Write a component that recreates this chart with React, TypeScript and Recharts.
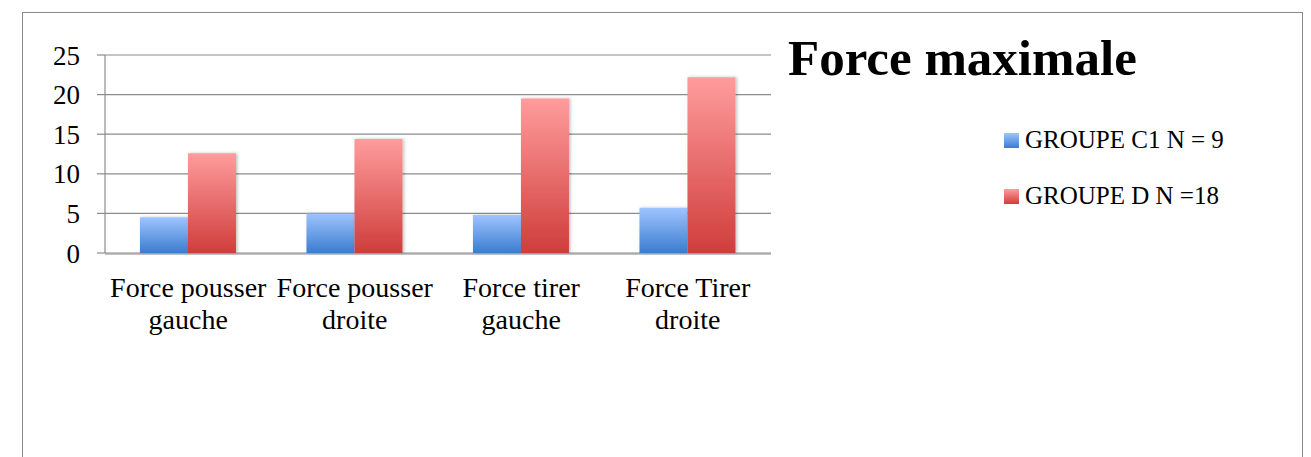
import { BarChart, Bar, XAxis, YAxis, CartesianGrid, Legend } from 'recharts';

const categories = ['Force pousser\ngauche', 'Force pousser\ndroite', 'Force tirer\ngauche', 'Force Tirer\ndroite'];
const groupeC1 = [4.5, 5.0, 4.8, 5.7];
const groupeD = [12.6, 14.4, 19.5, 22.2];
const yTicks = [0, 5, 10, 15, 20, 25];

const series = [
    { key: 'c1', name: 'GROUPE C1 N = 9', top: '#9ec4ff', bottom: '#3b7ccf' },
    { key: 'd', name: 'GROUPE D N =18', top: '#ff9c9c', bottom: '#cf3d3b' },
];

const data = categories.map((name, i) => ({ name, idx: i + 0.5, c1: groupeC1[i], d: groupeD[i] }));

const FONT = '"Liberation Serif", "Times New Roman", serif';
const GRID = '#8c8c8c';

const CategoryTick = (props: any) => {
    const { x, y, payload } = props;
    const lines = String(payload.value).split('\n');
    return (
        <text x={x} y={y} textAnchor="middle" fontFamily={FONT} fontSize={28} fill="#000">
            {lines.map((l, i) => (
                <tspan key={i} x={x} dy={i === 0 ? 36 : 32}>{l}</tspan>
            ))}
        </text>
    );
};

const renderLegend = () => (
    <div style={{ fontFamily: FONT, fontSize: 25, color: '#000' }}>
        {series.map((s, i) => (
            <div key={s.key} style={{ display: 'flex', alignItems: 'center', height: 30, marginBottom: i === 0 ? 26 : 0 }}>
                <span style={{
                    display: 'inline-block', width: 15, height: 15, marginRight: 6,
                    background: `linear-gradient(${s.top}, ${s.bottom})`,
                }} />
                <span>{s.name}</span>
            </div>
        ))}
    </div>
);

export default function App() {
    return (
        <div style={{
            position: 'absolute', left: 22, top: 12, width: 1279, height: 460,
            border: '1px solid #8a8a8a', background: '#fff', fontFamily: FONT,
        }}>
            <div style={{
                position: 'absolute', left: 765, top: 16, fontSize: 51, fontWeight: 'bold',
                lineHeight: '58px', color: '#000', whiteSpace: 'nowrap',
            }}>
                Force maximale
            </div>
            <BarChart
                width={1279}
                height={444}
                data={data}
                margin={{ top: 42, right: 531, left: 0, bottom: 144 }}
                barCategoryGap="21%"
                barGap={0}
            >
                <defs>
                    {series.map((s) => (
                        <linearGradient key={s.key} id={`grad-${s.key}`} x1="0" y1="0" x2="0" y2="1">
                            <stop offset="0%" stopColor={s.top} />
                            <stop offset="100%" stopColor={s.bottom} />
                        </linearGradient>
                    ))}
                    <filter id="barShadow" x="-20%" y="-10%" width="140%" height="120%">
                        <feDropShadow dx="1.5" dy="0" stdDeviation="1.5" floodColor="#000" floodOpacity="0.25" />
                    </filter>
                </defs>
                <CartesianGrid vertical={false} stroke={GRID} strokeWidth={1.2} />
                <XAxis
                    dataKey="name"
                    axisLine={false}
                    tickLine={false}
                    tick={<CategoryTick />}
                    height={1}
                    interval={0}
                />
                <XAxis
                    xAxisId="bounds"
                    type="number"
                    dataKey="idx"
                    domain={[0, 4]}
                    ticks={[0, 1, 2, 3, 4]}
                    tick={false}
                    axisLine={{ stroke: GRID, strokeWidth: 1.2 }}
                    tickLine={{ stroke: GRID, strokeWidth: 1.2 }}
                    tickSize={9}
                    height={59}
                />
                <YAxis
                    domain={[0, 25]}
                    ticks={yTicks}
                    width={82}
                    tickSize={8}
                    tickMargin={17}
                    axisLine={{ stroke: GRID, strokeWidth: 1.2 }}
                    tickLine={{ stroke: GRID, strokeWidth: 1.2 }}
                    tick={{ fontFamily: FONT, fontSize: 27, fill: '#000' }}
                />
                {series.map((s) => (
                    <Bar
                        key={s.key}
                        dataKey={s.key}
                        name={s.name}
                        fill={`url(#grad-${s.key})`}
                        filter="url(#barShadow)"
                        isAnimationActive={false}
                    />
                ))}
                <Legend
                    layout="vertical"
                    align="center"
                    verticalAlign="middle"
                    content={renderLegend}
                    wrapperStyle={{ left: 981, top: 112, width: 290 }}
                />
            </BarChart>
        </div>
    );
}
